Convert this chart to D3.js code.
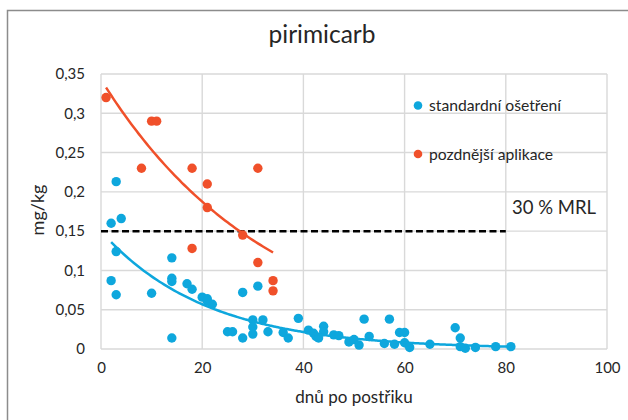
<!DOCTYPE html>
<html>
<head>
<meta charset="utf-8">
<script src="https://cdn.jsdelivr.net/npm/d3@7"></script>
<style>
  body { margin: 0; background: #fff; }
  text { font-family: Lato, "Open Sans", sans-serif; fill: #262626; }
</style>
</head>
<body>
<svg id="chart"></svg>
<script>
// data
const standardX = [2, 3, 4, 3, 2, 3, 10, 14, 14, 14, 14, 17, 18, 20, 21, 21, 22, 28, 31, 25, 26, 28, 30, 30, 30, 32, 33, 36, 37, 39, 41, 42, 42.5, 43, 44, 44, 46, 47, 49, 50, 51, 52, 53, 56, 57, 58, 59, 60, 60, 61, 65, 70, 71, 71, 72, 74, 78, 81];
const standardY = [0.16, 0.213, 0.166, 0.124, 0.087, 0.069, 0.071, 0.116, 0.09, 0.086, 0.014, 0.083, 0.076, 0.066, 0.064, 0.061, 0.057, 0.072, 0.08, 0.022, 0.022, 0.014, 0.037, 0.028, 0.019, 0.037, 0.022, 0.021, 0.014, 0.039, 0.024, 0.02, 0.016, 0.014, 0.029, 0.022, 0.018, 0.017, 0.009, 0.012, 0.005, 0.038, 0.016, 0.007, 0.038, 0.006, 0.021, 0.021, 0.008, 0.002, 0.006, 0.027, 0.014, 0.003, 0.001, 0.002, 0.003, 0.003];

const lateX = [1, 10, 11, 8, 18, 31, 21, 21, 28, 18, 31, 34, 34];
const lateY = [0.32, 0.29, 0.29, 0.23, 0.23, 0.23, 0.21, 0.18, 0.145, 0.128, 0.11, 0.087, 0.074];

// exponential trendlines y = a * e^(b x), coefficients
const standardTrend = { a: 0.150, b: -0.0484, from: 2, to: 81 };
const lateTrend = { a: 0.343, b: -0.0302, from: 1, to: 34 };

const mrlX = [0, 80];
const mrlY = [0.15, 0.15];

const xTicks = [0, 20, 40, 60, 80, 100];
const yTicks = [0, 0.05, 0.1, 0.15, 0.2, 0.25, 0.3, 0.35];

const seriesNames = ["standardní ošetření", "pozdnější aplikace"];
const colors = ["#0ea7dd", "#f0502a"];

const width = 628, height = 420;
const margin = { top: 74, right: 21, bottom: 71, left: 101 };

const svg = d3.select("#chart").attr("width", width).attr("height", height);

// outer frame
svg.append("rect")
    .attr("x", 7.5).attr("y", 10.5)
    .attr("width", 640).attr("height", 440)
    .attr("fill", "none")
    .attr("stroke", "#8c8c8c")
    .attr("stroke-width", 1.5);

const xScale = d3.scaleLinear().domain([0, 100]).range([margin.left, width - margin.right]);
const yScale = d3.scaleLinear().domain([0, 0.35]).range([height - margin.bottom, margin.top]);

const grid = svg.append("g");
grid.selectAll(".vgrid")
    .data(xTicks)
    .join("line")
    .attr("class", "vgrid")
    .attr("x1", d => xScale(d)).attr("x2", d => xScale(d))
    .attr("y1", yScale(0)).attr("y2", yScale(0.35))
    .attr("stroke", "#d9d9d9").attr("stroke-width", 1.4);
grid.selectAll(".hgrid")
    .data(yTicks)
    .join("line")
    .attr("class", "hgrid")
    .attr("x1", xScale(0)).attr("x2", xScale(100))
    .attr("y1", d => yScale(d)).attr("y2", d => yScale(d))
    .attr("stroke", "#d9d9d9").attr("stroke-width", 1.4);

const fmt = d => d3.format("~g")(d).replace(".", ",");

const xAxis = svg.append("g")
    .attr("transform", `translate(0, ${yScale(0)})`)
    .call(d3.axisBottom(xScale).tickValues(xTicks).tickSize(0).tickPadding(13));
const yAxis = svg.append("g")
    .attr("transform", `translate(${xScale(0)}, 0)`)
    .call(d3.axisLeft(yScale).tickValues(yTicks).tickFormat(fmt).tickSize(0).tickPadding(16));
[xAxis, yAxis].forEach(a => {
    a.select(".domain").remove();
    a.selectAll("text").style("font-family", "Lato, sans-serif").style("font-size", "15px").attr("fill", "#262626");
});

// MRL line
const mrl = mrlX.map((x, i) => [x, mrlY[i]]);
svg.append("path")
    .attr("d", d3.line().x(d => xScale(d[0])).y(d => yScale(d[1]))(mrl))
    .attr("stroke", "#000")
    .attr("stroke-width", 2.5)
    .attr("stroke-dasharray", "7,3.5")
    .attr("fill", "none");

svg.append("text")
    .attr("x", 512).attr("y", 214)
    .style("font-size", "18.5px")
    .text("30 % MRL");

// points
const standard = standardX.map((x, i) => ({ x, y: standardY[i] }));
const late = lateX.map((x, i) => ({ x, y: lateY[i] }));

svg.append("g").selectAll("circle")
    .data(standard)
    .join("circle")
    .attr("cx", d => xScale(d.x))
    .attr("cy", d => yScale(d.y))
    .attr("r", 4.7)
    .attr("fill", colors[0]);

svg.append("g").selectAll("circle")
    .data(late)
    .join("circle")
    .attr("cx", d => xScale(d.x))
    .attr("cy", d => yScale(d.y))
    .attr("r", 4.7)
    .attr("fill", colors[1]);

// trendlines
const trendLine = d3.line().x(d => xScale(d[0])).y(d => yScale(d[1])).curve(d3.curveMonotoneX);
[standardTrend, lateTrend].forEach((t, i) => {
    const pts = d3.range(t.from, t.to + 0.01, 0.5).map(x => [x, t.a * Math.exp(t.b * x)]);
    svg.append("path")
        .attr("d", trendLine(pts))
        .attr("stroke", colors[i])
        .attr("stroke-width", 2.5)
        .attr("fill", "none");
});

// legend
const legend = svg.append("g").selectAll("g")
    .data(seriesNames)
    .join("g")
    .attr("transform", (d, i) => `translate(418, ${105.5 + i * 48.5})`);
legend.append("circle")
    .attr("r", 4.3)
    .attr("fill", (d, i) => colors[i]);
legend.append("text")
    .attr("x", 11)
    .attr("dy", "0.35em")
    .style("font-size", "15.7px")
    .text(d => d);

// titles
svg.append("text")
    .attr("x", 322).attr("y", 43)
    .attr("text-anchor", "middle")
    .style("font-size", "24.5px")
    .text("pirimicarb");

svg.append("text")
    .attr("x", (xScale(0) + xScale(100)) / 2).attr("y", 403)
    .attr("text-anchor", "middle")
    .style("font-size", "17px")
    .text("dnů po postřiku");

svg.append("text")
    .attr("transform", `translate(44, 210) rotate(-90)`)
    .attr("text-anchor", "middle")
    .style("font-size", "18px")
    .text("mg/kg");
</script>
</body>
</html>
